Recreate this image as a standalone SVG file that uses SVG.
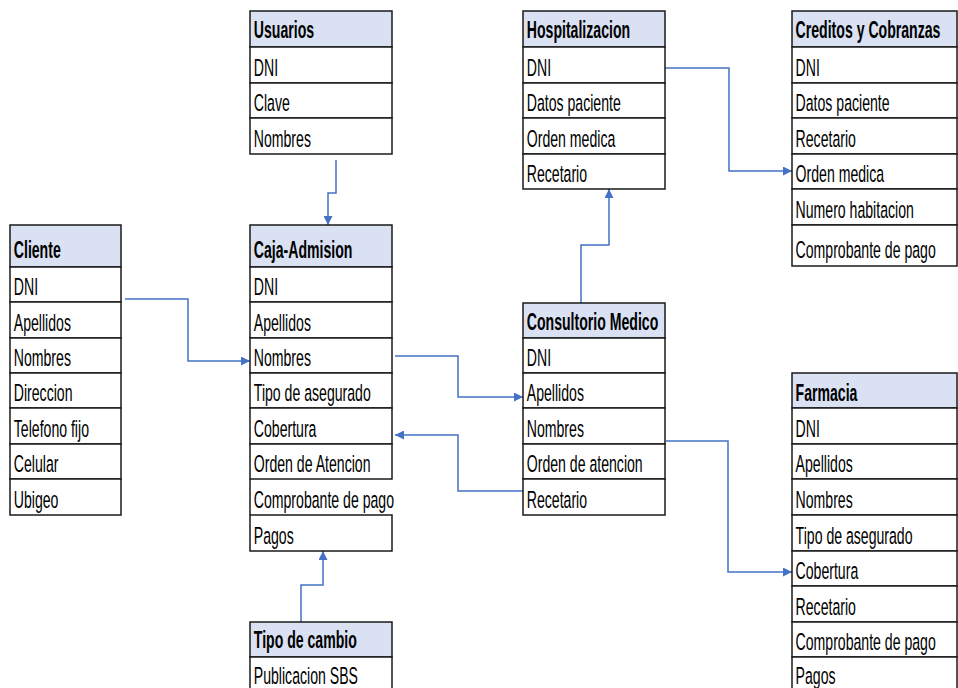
<svg xmlns="http://www.w3.org/2000/svg" width="958" height="688" viewBox="0 0 958 688">
<defs>
<style>
.h{fill:#D9E1F2;stroke:#1a1a1a;stroke-width:1.5}
.c{fill:#fff;stroke:#1a1a1a;stroke-width:1.5}
.ln{fill:none;stroke:#1a1a1a;stroke-width:1.5}
text{font-family:"Liberation Sans",Arial,sans-serif;font-size:23.5px;fill:#000}
.b{font-weight:bold}
.con{fill:none;stroke:#4472C4;stroke-width:1.5}
</style>
<marker id="arr" viewBox="0 0 10 10" refX="10" refY="5" markerUnits="userSpaceOnUse" markerWidth="9" markerHeight="9" orient="auto">
<path d="M0,0 L10,5 L0,10 z" fill="#4472C4"/>
</marker>
</defs>
<rect width="958" height="688" fill="#fff"/>

<g id="connectors">
<path class="con" d="M336,160 V193 H328 V225" marker-end="url(#arr)"/>
<path class="con" d="M125,299 H188 V361 H250" marker-end="url(#arr)"/>
<path class="con" d="M395,356 H458 V397 H523" marker-end="url(#arr)"/>
<path class="con" d="M523,491 H458 V435 H395" marker-end="url(#arr)"/>
<path class="con" d="M581,303 V245 H609 V189" marker-end="url(#arr)"/>
<path class="con" d="M665,68 H729 V171 H792" marker-end="url(#arr)"/>
<path class="con" d="M666,441 H728 V572 H792" marker-end="url(#arr)"/>
<path class="con" d="M301,622 V585 H323 V551" marker-end="url(#arr)"/>
</g>

<g id="usuarios">
<rect class="h" x="250" y="11" width="142" height="36"/>
<rect class="c" x="250" y="47" width="142" height="36"/>
<rect class="c" x="250" y="83" width="142" height="35"/>
<rect class="c" x="250" y="118" width="142" height="36"/>
<g transform="scale(0.6 1)">
<text class="b" x="423" y="38">Usuarios</text>
<text x="423" y="76">DNI</text>
<text x="423" y="111">Clave</text>
<text x="423" y="147">Nombres</text>
</g>
</g>

<g id="cliente">
<rect class="h" x="10" y="225" width="111" height="42"/>
<rect class="c" x="10" y="267" width="111" height="35"/>
<rect class="c" x="10" y="302" width="111" height="36"/>
<rect class="c" x="10" y="338" width="111" height="35"/>
<rect class="c" x="10" y="373" width="111" height="35"/>
<rect class="c" x="10" y="408" width="111" height="36"/>
<rect class="c" x="10" y="444" width="111" height="35"/>
<rect class="c" x="10" y="479" width="111" height="36"/>
<g transform="scale(0.6 1)">
<text class="b" x="23" y="258">Cliente</text>
<text x="23" y="295">DNI</text>
<text x="23" y="331">Apellidos</text>
<text x="23" y="366">Nombres</text>
<text x="23" y="401">Direccion</text>
<text x="23" y="437">Telefono fijo</text>
<text x="23" y="472">Celular</text>
<text x="23" y="508">Ubigeo</text>
</g>
</g>

<g id="caja-admision">
<rect class="h" x="250" y="225" width="142" height="42"/>
<rect class="c" x="250" y="267" width="142" height="35"/>
<rect class="c" x="250" y="302" width="142" height="36"/>
<rect class="c" x="250" y="338" width="142" height="35"/>
<rect class="c" x="250" y="373" width="142" height="35"/>
<rect class="c" x="250" y="408" width="142" height="36"/>
<rect class="c" x="250" y="444" width="142" height="35"/>
<path class="ln" d="M250,479 V515"/>
<rect class="c" x="250" y="515" width="142" height="36"/>
<g transform="scale(0.6 1)">
<text class="b" x="423" y="258">Caja-Admision</text>
<text x="423" y="295">DNI</text>
<text x="423" y="331">Apellidos</text>
<text x="423" y="366">Nombres</text>
<text x="423" y="401">Tipo de asegurado</text>
<text x="423" y="437">Cobertura</text>
<text x="423" y="472">Orden de Atencion</text>
<text x="423" y="508">Comprobante de pago</text>
<text x="423" y="544">Pagos</text>
</g>
</g>

<g id="tipo-de-cambio">
<rect class="h" x="250" y="622" width="142" height="35"/>
<rect class="c" x="250" y="657" width="142" height="36"/>
<g transform="scale(0.6 1)">
<text class="b" x="423" y="648">Tipo de cambio</text>
<text x="423" y="684">Publicacion SBS</text>
</g>
</g>

<g id="hospitalizacion">
<rect class="h" x="523" y="11" width="142" height="36"/>
<rect class="c" x="523" y="47" width="142" height="36"/>
<rect class="c" x="523" y="83" width="142" height="35"/>
<rect class="c" x="523" y="118" width="142" height="36"/>
<rect class="c" x="523" y="154" width="142" height="35"/>
<g transform="scale(0.6 1)">
<text class="b" x="878" y="38">Hospitalizacion</text>
<text x="878" y="76">DNI</text>
<text x="878" y="111">Datos paciente</text>
<text x="878" y="147">Orden medica</text>
<text x="878" y="182">Recetario</text>
</g>
</g>

<g id="creditos-y-cobranzas">
<rect class="h" x="792" y="11" width="165" height="36"/>
<rect class="c" x="792" y="47" width="165" height="36"/>
<rect class="c" x="792" y="83" width="165" height="35"/>
<rect class="c" x="792" y="118" width="165" height="36"/>
<rect class="c" x="792" y="154" width="165" height="35"/>
<rect class="c" x="792" y="189" width="165" height="36"/>
<rect class="c" x="792" y="225" width="165" height="41"/>
<g transform="scale(0.6 1)">
<text class="b" x="1326" y="38">Creditos y Cobranzas</text>
<text x="1326" y="76">DNI</text>
<text x="1326" y="111">Datos paciente</text>
<text x="1326" y="147">Recetario</text>
<text x="1326" y="182">Orden medica</text>
<text x="1326" y="218">Numero habitacion</text>
<text x="1326" y="258">Comprobante de pago</text>
</g>
</g>

<g id="consultorio-medico">
<rect class="h" x="523" y="303" width="142" height="35"/>
<rect class="c" x="523" y="338" width="142" height="35"/>
<rect class="c" x="523" y="373" width="142" height="35"/>
<rect class="c" x="523" y="408" width="142" height="36"/>
<rect class="c" x="523" y="444" width="142" height="35"/>
<rect class="c" x="523" y="479" width="142" height="36"/>
<g transform="scale(0.6 1)">
<text class="b" x="878" y="330">Consultorio Medico</text>
<text x="878" y="366">DNI</text>
<text x="878" y="401">Apellidos</text>
<text x="878" y="437">Nombres</text>
<text x="878" y="472">Orden de atencion</text>
<text x="878" y="508">Recetario</text>
</g>
</g>

<g id="farmacia">
<rect class="h" x="792" y="373" width="165" height="35"/>
<rect class="c" x="792" y="408" width="165" height="36"/>
<rect class="c" x="792" y="444" width="165" height="35"/>
<rect class="c" x="792" y="479" width="165" height="36"/>
<rect class="c" x="792" y="515" width="165" height="36"/>
<rect class="c" x="792" y="551" width="165" height="35"/>
<rect class="c" x="792" y="586" width="165" height="36"/>
<rect class="c" x="792" y="622" width="165" height="35"/>
<rect class="c" x="792" y="657" width="165" height="36"/>
<g transform="scale(0.6 1)">
<text class="b" x="1326" y="401">Farmacia</text>
<text x="1326" y="437">DNI</text>
<text x="1326" y="472">Apellidos</text>
<text x="1326" y="508">Nombres</text>
<text x="1326" y="544">Tipo de asegurado</text>
<text x="1326" y="579">Cobertura</text>
<text x="1326" y="615">Recetario</text>
<text x="1326" y="650">Comprobante de pago</text>
<text x="1326" y="684">Pagos</text>
</g>
</g>
</svg>
